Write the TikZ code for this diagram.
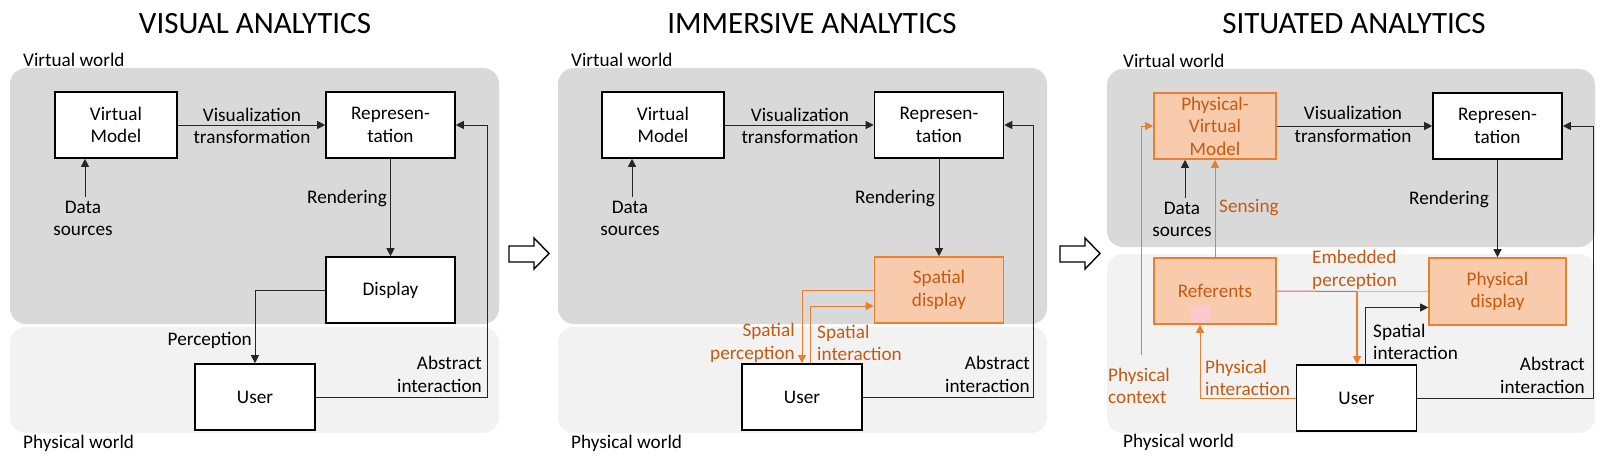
\documentclass[tikz,border=0pt]{standalone}
\usepackage{fontspec}
\setmainfont{Carlito}
\usetikzlibrary{positioning}
\usetikzlibrary{arrows.meta}

\definecolor{vwgray}{HTML}{D9D9D9}
\definecolor{pwgray}{HTML}{F2F2F2}
\definecolor{ofill}{HTML}{F8CBAD}
\definecolor{oline}{HTML}{ED7D31}
\definecolor{otext}{HTML}{C55A11}
\definecolor{olight}{HTML}{F4B183}
\definecolor{ored}{HTML}{E0606A}
\definecolor{opink}{HTML}{FFC7CE}

\begin{document}
\begin{tikzpicture}[x=1pt, y=-1pt,
  box/.style = {draw, line width=1.6pt, fill=white, minimum width=122pt, minimum height=66pt, align=center, inner sep=0pt, font=\fontsize{19.2}{22.5}\selectfont},
  wbox/.style = {box, minimum width=129pt},
  obox/.style = {draw=oline, fill=ofill, text=otext},
  lbl/.style = {align=center, inner sep=0pt, font=\fontsize{19.2}{22.5}\selectfont},
  olbl/.style = {lbl, text=otext},
  title/.style = {inner sep=0pt, font=\fontsize{31}{36}\selectfont},
  arr/.style = {draw=black!85, line width=0.9pt, -{Triangle[length=8pt,width=8pt]}},
  oarr/.style = {arr, draw=oline},
  world/.style = {rounded corners=16pt},
  hollow/.style = {draw, line width=1.4pt, fill=white, line join=miter}]
  \useasboundingbox (0,0) rectangle (1603,457);

  \fill[vwgray, world] (10,68) rectangle (499,324);
  \fill[pwgray, world] (10,327) rectangle (499,433);
  \node[title] (t1) at (255,24) {VISUAL ANALYTICS};
  \node[lbl, anchor=west] (vw1) at (23,60) {Virtual world};
  \node[lbl, anchor=west] (pw1) at (23,443) {Physical world};
  \node[box] (vm1) at (116,125) {Virtual\\Model};
  \node[wbox] (rep1) at (390.5,125) {Represen-\\tation};
  \node[wbox] (disp1) at (390.5,290) {Display};
  \node[box, minimum width=120pt] (user1) at (255,397) {User};
  \node[lbl] (ds1) at (83,218.5) {Data\\sources};
  \node[lbl] (vt1) at (252,126) {Visualization\\transformation};
  \node[lbl, anchor=east] (rd1) at (387,198) {Rendering};
  \node[lbl, anchor=east] (pc1) at (252,340) {Perception};
  \node[lbl, anchor=east, align=right] (ai1) at (482,374.5) {Abstract\\interaction};
  \coordinate (ab1) at (487,0);
  \draw[arr] ([xshift=2pt,yshift=4pt]ds1.north) -- ([xshift=2pt]ds1.north |- vm1.south);
  \draw[arr] (vm1) -- (rep1);
  \draw[arr] (rep1) -- (disp1);
  \draw[arr] (disp1.west) -| (user1.north);
  \draw[arr] (user1.east) -| (ab1 |- rep1.east) -- (rep1.east);
  \draw[hollow] (509,246) -- (534,246) -- (534,238) -- (549,253.5) -- (534,269) -- (534,262) -- (509,262) -- cycle;

  \fill[vwgray, world] (558,68) rectangle (1047,324);
  \fill[pwgray, world] (558,327) rectangle (1047,433);
  \node[title] (t2) at (812,24) {IMMERSIVE ANALYTICS};
  \node[lbl, anchor=west] (vw2) at (571,60) {Virtual world};
  \node[lbl, anchor=west] (pw2) at (571,443) {Physical world};
  \node[box] (vm2) at (663,125) {Virtual\\Model};
  \node[wbox] (rep2) at (939,125) {Represen-\\tation};
  \node[wbox, obox] (sdisp2) at (939,290) {Spatial\\display};
  \node[box, minimum width=120pt] (user2) at (802,397) {User};
  \node[lbl] (ds2) at (630,218.5) {Data\\sources};
  \node[lbl] (vt2) at (800,126) {Visualization\\transformation};
  \node[lbl, anchor=east] (rd2) at (935,198) {Rendering};
  \node[olbl, anchor=east, align=right] (sp2) at (795,343) {Spatial\\perception};
  \node[olbl, anchor=west, align=left] (si2) at (817,343) {Spatial\\interaction};
  \node[lbl, anchor=east, align=right] (ai2) at (1030,374.5) {Abstract\\interaction};
  \coordinate (ab2) at (1033.5,0);
  \draw[arr] ([xshift=2pt,yshift=4pt]ds2.north) -- ([xshift=2pt]ds2.north |- vm2.south);
  \draw[arr] (vm2) -- (rep2);
  \draw[arr] (rep2) -- (sdisp2);
  \draw[oarr] (sdisp2.west) -| (user2.north);
  \draw[oarr] ([xshift=8pt]user2.north) |- ([yshift=-16pt]sdisp2.west);
  \draw[arr] (user2.east) -| (ab2 |- rep2.east) -- (rep2.east);
  \draw[hollow] (1060,246) -- (1085,246) -- (1085,238) -- (1100,253.5) -- (1085,269) -- (1085,262) -- (1060,262) -- cycle;

  \fill[vwgray, world] (1107,69) rectangle (1595,247);
  \fill[pwgray, world] (1107,254) rectangle (1595,433);
  \node[title] (t3) at (1354,24) {SITUATED ANALYTICS};
  \node[lbl, anchor=west] (vw3) at (1123,61) {Virtual world};
  \node[lbl, anchor=west] (pw3) at (1123,442) {Physical world};
  \node[box, obox] (pvm3) at (1215,126) {Physical-\\Virtual\\Model};
  \node[wbox] (rep3) at (1497.5,126) {Represen-\\tation};
  \node[box, obox] (ref3) at (1215,291) {Referents};
  \fill[opink] (1191,306) rectangle (1210,323);
  \node[box, obox, minimum width=137pt, minimum height=67pt] (pdisp3) at (1497.5,291.5) {Physical\\display};
  \node[box, minimum width=120pt] (user3) at (1356.5,398) {User};
  \node[lbl] (ds3) at (1182,219.5) {Data\\sources};
  \node[olbl, anchor=west] (sn3) at (1219,208) {Sensing};
  \node[lbl] (vt3) at (1353,124.5) {Visualization\\transformation};
  \node[lbl, anchor=east] (rd3) at (1489,199) {Rendering};
  \node[olbl, anchor=west, align=left] (ep3) at (1312,270) {Embedded\\perception};
  \node[lbl, anchor=west, align=left] (si3) at (1373,342) {Spatial\\interaction};
  \node[olbl, anchor=west, align=left] (pi3) at (1205,378) {Physical\\interaction};
  \node[olbl, anchor=west, align=left] (pc3) at (1108,386) {Physical\\context};
  \node[lbl, anchor=east, align=right] (ai3) at (1585,375.5) {Abstract\\interaction};
  \coordinate (ab3) at (1593,0);
  \coordinate (ctx3) at (1141,355);
  \coordinate (emb3) at (1357,291.5);
  \draw[arr] ([xshift=3pt,yshift=4pt]ds3.north) -- ([xshift=3pt]ds3.north |- pvm3.south);
  \draw[oarr] (ref3) -- (pvm3);
  \draw[oarr] (ctx3) |- (pvm3.west);
  \draw[arr] (pvm3) -- (rep3);
  \draw[arr] (rep3) -- (pdisp3);
  \draw[ored, line width=1pt] (ref3.east) -- (emb3);
  \draw[olight, line width=1pt] (pdisp3.west) -- (emb3);
  \draw[oarr, line width=1.6pt] (emb3) -- (emb3 |- user3.north);
  \draw[oarr] (user3.west) -| ([xshift=-15pt]ref3.south);
  \draw[arr] ([xshift=8.5pt]user3.north) |- ([yshift=-16pt]pdisp3.west);
  \draw[arr] (user3.east) -| (ab3 |- rep3.east) -- (rep3.east);
\end{tikzpicture}
\end{document}
